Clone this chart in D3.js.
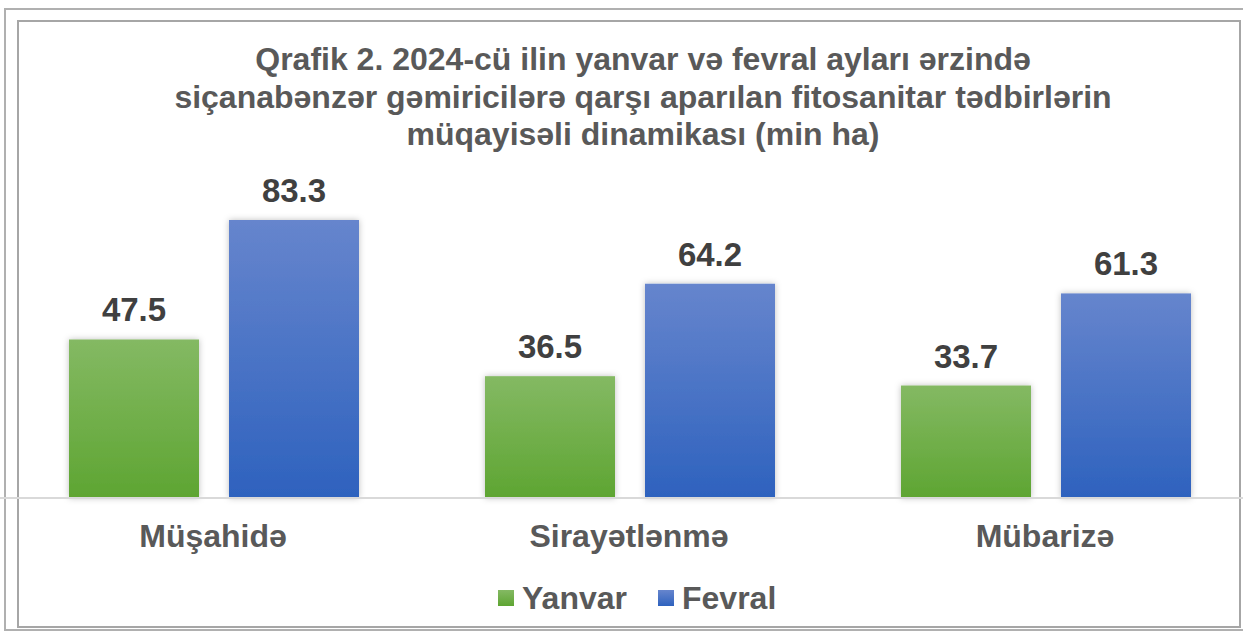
<!DOCTYPE html>
<html>
<head>
<meta charset="utf-8">
<script src="https://cdn.jsdelivr.net/npm/d3@7"></script>
<style>
  body { margin: 0; background: #fff; }
  svg { display: block; font-family: "Liberation Sans", Arial, sans-serif; }
</style>
</head>
<body>
<div id="chart"></div>
<script>
const categories = ["Müşahidə", "Sirayətlənmə", "Mübarizə"];
const seriesNames = ["Yanvar", "Fevral"];
const yanvar = [47.5, 36.5, 33.7];
const fevral = [83.3, 64.2, 61.3];
const titleLines = [
  "Qrafik 2. 2024-cü ilin yanvar və fevral ayları ərzində",
  "siçanabənzər gəmiricilərə qarşı aparılan fitosanitar tədbirlərin",
  "müqayisəli dinamikası (min ha)"
];

const w = 1243;
const h = 632;
const baseY = 498;

const svg = d3.select("#chart")
  .append("svg")
  .attr("width", w)
  .attr("height", h);

const defs = svg.append("defs");
const gradColors = [["#84b963", "#5ea532"], ["#6685cd", "#2e62be"]];
gradColors.forEach((c, i) => {
  const g = defs.append("linearGradient")
    .attr("id", "grad" + i)
    .attr("x1", 0).attr("y1", 0).attr("x2", 0).attr("y2", 1);
  g.append("stop").attr("offset", "0%").attr("stop-color", c[0]);
  g.append("stop").attr("offset", "100%").attr("stop-color", c[1]);
});
defs.append("filter")
  .attr("id", "shadow")
  .attr("x", "-20%").attr("y", "-20%").attr("width", "140%").attr("height", "140%")
  .append("feDropShadow")
  .attr("dx", 0).attr("dy", 0).attr("stdDeviation", 3)
  .attr("flood-color", "#000").attr("flood-opacity", 0.25);

// frames
svg.append("rect")
  .attr("x", 5).attr("y", 9).attr("width", 1260).attr("height", 621)
  .attr("fill", "none").attr("stroke", "#b0b0b0").attr("stroke-width", 2);
svg.append("rect")
  .attr("x", 18).attr("y", 21).attr("width", 1222).attr("height", 606)
  .attr("fill", "none").attr("stroke", "#a6a6a6").attr("stroke-width", 2);

// title
svg.append("text")
  .attr("text-anchor", "middle")
  .attr("fill", "#595959")
  .attr("font-weight", "bold")
  .attr("font-size", 32)
  .selectAll("tspan")
  .data(titleLines)
  .enter()
  .append("tspan")
  .attr("x", 643)
  .attr("y", (d, i) => 70 + i * 37.5)
  .text(d => d);

const x0 = d3.scaleBand()
  .domain(categories)
  .range([5, 1253]);

const x1 = d3.scaleBand()
  .domain(seriesNames)
  .range([64, 354])
  .paddingInner(30 / 160);

const y = d3.scaleLinear()
  .domain([0, 83.3])
  .range([baseY, 220]);

const rows = categories.map((c, i) => ({
  cat: c,
  vals: [
    { s: seriesNames[0], v: yanvar[i], idx: 0 },
    { s: seriesNames[1], v: fevral[i], idx: 1 }
  ]
}));

const groups = svg.selectAll("g.grp")
  .data(rows)
  .enter()
  .append("g")
  .attr("class", "grp")
  .attr("transform", d => `translate(${x0(d.cat)},0)`);

groups.selectAll("rect")
  .data(d => d.vals)
  .enter()
  .append("rect")
  .attr("x", d => x1(d.s))
  .attr("y", d => y(d.v))
  .attr("width", x1.bandwidth())
  .attr("height", d => baseY - y(d.v))
  .attr("fill", d => `url(#grad${d.idx})`)
  .attr("filter", "url(#shadow)");

groups.selectAll("text.val")
  .data(d => d.vals)
  .enter()
  .append("text")
  .attr("class", "val")
  .attr("x", d => x1(d.s) + x1.bandwidth() / 2)
  .attr("y", d => y(d.v) - 18)
  .attr("text-anchor", "middle")
  .attr("font-size", 33)
  .attr("font-weight", "bold")
  .attr("fill", "#404040")
  .text(d => d.v.toFixed(1));

// axis baseline + category labels
const xAxis = d3.axisBottom(x0).tickSize(0).tickPadding(26);
const axG = svg.append("g")
  .attr("transform", `translate(0,${baseY})`)
  .call(xAxis);
axG.select(".domain").remove();
axG.append("line")
  .attr("x1", 0).attr("x2", w)
  .attr("stroke", "#d9d9d9").attr("stroke-width", 2);
axG.selectAll(".tick text")
  .attr("font-family", "Liberation Sans, Arial, sans-serif")
  .attr("font-size", 32)
  .attr("font-weight", "bold")
  .attr("fill", "#595959");

// legend
const legend = svg.append("g").attr("transform", "translate(498,598)");
const legX = [0, 160];
seriesNames.forEach((s, i) => {
  legend.append("rect")
    .attr("x", legX[i]).attr("y", -8)
    .attr("width", 16).attr("height", 16)
    .attr("fill", `url(#grad${i})`);
  legend.append("text")
    .attr("x", legX[i] + 24).attr("y", 11)
    .attr("font-size", 32)
    .attr("font-weight", "bold")
    .attr("fill", "#595959")
    .text(s);
});
</script>
</body>
</html>
